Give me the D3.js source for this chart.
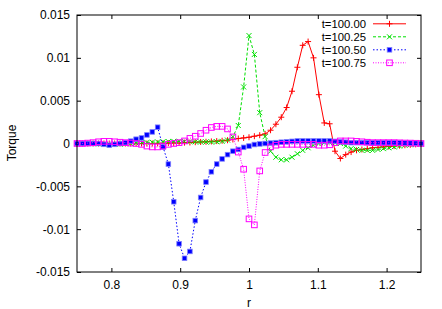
<!DOCTYPE html>
<html><head><meta charset="utf-8">
<script src="https://cdn.jsdelivr.net/npm/d3@7/dist/d3.min.js"></script>
<style>
body{margin:0;background:#fff;}
svg text{font-family:"Liberation Sans",Arial,sans-serif;font-size:12px;fill:#000;}
</style></head>
<body><svg id="c" width="442" height="309"></svg>
<script>
const r = [0.7500,0.7578,0.7656,0.7734,0.7813,0.7891,0.7969,0.8047,
0.8125,0.8203,0.8281,0.8359,0.8438,0.8516,0.8594,0.8672,
0.8750,0.8828,0.8906,0.8984,0.9063,0.9141,0.9219,0.9297,
0.9375,0.9453,0.9531,0.9609,0.9688,0.9766,0.9844,0.9922,
1.0000,1.0078,1.0156,1.0234,1.0313,1.0391,1.0469,1.0547,
1.0625,1.0703,1.0781,1.0859,1.0938,1.1016,1.1094,1.1172,
1.1250,1.1328,1.1406,1.1484,1.1563,1.1641,1.1719,1.1797,
1.1875,1.1953,1.2031,1.2109,1.2188,1.2266,1.2344,1.2422,
1.2500];
const t10000 = [0,0,0,0,0,0,0,0,
0,0,0,0,0,0,0,0.00002,
0.00003,0.00004,0.00005,0.00006,0.0001,0.00012,0.00015,0.00018,
0.0002,0.00024,0.00028,0.00032,0.00038,0.00047,0.00058,0.00065,
0.00073,0.00085,0.00097,0.00112,0.00155,0.00225,0.00307,0.0042,
0.0061,0.0089,0.01146,0.0119,0.0100,0.0057,0.0024,0.0023,
-0.0009,-0.00175,-0.0013,-0.001,-0.0008,-0.0007,-0.0006,-0.0005,
-0.00045,-0.0004,-0.00035,-0.0003,-0.00025,-0.0002,-0.00015,-0.0001,
-0.00005];
const t10025 = [0,0,0,0,-0.00005,-0.00008,-0.0001,-0.0001,
-0.00008,-0.00005,0,0.00005,0.0001,0.00012,0.00015,0.00018,
0.0002,0.00022,0.00025,0.00025,0.00025,0.00022,0.0002,0.00018,
0.00018,0.00018,0.0002,0.00025,0.0004,0.0008,0.0021,0.0066,
0.0126,0.0104,0.0036,0.0008,-0.0009,-0.0016,-0.0019,-0.0019,
-0.0016,-0.0012,-0.0008,-0.0005,-0.0002,0,0.0001,0.0001,
0.0001,0,-0.0003,-0.0006,-0.0007,-0.0008,-0.0008,-0.0008,
-0.0007,-0.0006,-0.0005,-0.0004,-0.0003,-0.0002,-0.00015,-0.0001,
-0.00005];
const t10050 = [0,0,0,0,0,-0.0001,-0.0002,-0.0001,
0,0.0001,0.00027,0.0005,0.00065,0.001,0.00135,0.0019,
-0.0004,-0.0024,-0.0068,-0.0117,-0.0134,-0.0126,-0.009,-0.0063,
-0.0045,-0.0033,-0.0024,-0.0018,-0.0013,-0.0009,-0.0007,-0.00045,
-0.0003,-0.00012,-0.00005,0,0.00005,0.0001,0.00015,0.0002,
0.00025,0.0003,0.0003,0.0003,0.0003,0.0003,0.0003,0.0003,
0.00025,0.0002,0.00015,0.0001,0.0001,0.0001,0.0001,0.0001,
0.0001,0.0001,0.0001,0.0001,0.00008,0.00006,0.00005,0.00003,
0];
const t10075 = [0,0,0.00005,0.0001,0.0002,0.00025,0.00025,0.0002,
0.00015,0.0001,0.00005,0,-0.0001,-0.0003,-0.0004,-0.0004,
-0.0003,-0.0001,0,0.0001,0.0003,0.0006,0.00085,0.00117,
0.00155,0.00187,0.002,0.002,0.0017,0.00077,-0.001,-0.003,
-0.0088,-0.0095,-0.0032,-0.00105,-0.0004,-0.0002,-0.0001,-0.0001,
-0.0001,-0.0001,-0.0001,-0.0001,-0.0001,-0.0002,-0.0002,-0.00015,
0.0001,0.0003,0.0003,0.0003,0.00025,0.0002,0.00015,0.0001,
0.0001,0.0001,0.0001,0.0001,0.00008,0.00006,0.00005,0.00003,
0];
const seriesNames = ["t=100.00","t=100.25","t=100.50","t=100.75"];
const xTicks = [0.8,0.9,1.0,1.1,1.2];
const xTickLabels = ["0.8","0.9","1","1.1","1.2"];
const yTicks = [-0.015,-0.01,-0.005,0,0.005,0.01,0.015];
const yTickLabels = ["-0.015","-0.01","-0.005","0","0.005","0.01","0.015"];

const svg = d3.select("#c");
const m = {l:77,t:15,r:21,b:37};
const W = 442, H = 309;
const x = d3.scaleLinear().domain([0.75,1.25]).range([m.l, W-m.r]);
const y = d3.scaleLinear().domain([-0.015,0.015]).range([H-m.b, m.t]);

const styles = [
  {color:"#ff0000", dash:null, mk:"plus"},
  {color:"#00e000", dash:"3,2", mk:"cross"},
  {color:"#0000ff", dash:"1.5,2", mk:"fsq"},
  {color:"#ff00ff", dash:"1,1.5", mk:"osq"}
];
const data = [t10000,t10025,t10050,t10075];

const tl = 4;
svg.append("g").attr("transform",`translate(0,${H-m.b})`)
  .call(d3.axisBottom(x).tickValues(xTicks).tickSize(-tl).tickPadding(8).tickFormat((d,i)=>xTickLabels[i]))
  .call(g=>{g.select(".domain").remove(); g.selectAll("line").attr("stroke","#000");});
svg.append("g").attr("transform",`translate(0,${m.t})`)
  .call(d3.axisTop(x).tickValues(xTicks).tickSize(-tl).tickFormat(""))
  .call(g=>{g.select(".domain").remove(); g.selectAll("line").attr("stroke","#000");});
svg.append("g").attr("transform",`translate(${m.l},0)`)
  .call(d3.axisLeft(y).tickValues(yTicks).tickSize(-tl).tickPadding(7).tickFormat((d,i)=>yTickLabels[i]))
  .call(g=>{g.select(".domain").remove(); g.selectAll("line").attr("stroke","#000");});
svg.append("g").attr("transform",`translate(${W-m.r},0)`)
  .call(d3.axisRight(y).tickValues(yTicks).tickSize(-tl).tickFormat(""))
  .call(g=>{g.select(".domain").remove(); g.selectAll("line").attr("stroke","#000");});
svg.selectAll(".tick text").style("font-family",'"Liberation Sans",Arial,sans-serif').style("font-size","12px").attr("fill","#000");

function marker(g, type, cx, cy, color){
  if(type==="plus"){
    g.append("path").attr("d",`M${cx-3},${cy}H${cx+3}M${cx},${cy-3}V${cy+3}`).attr("stroke",color).attr("stroke-width",1).attr("fill","none");
  } else if(type==="cross"){
    g.append("path").attr("d",`M${cx-2.5},${cy-2.5}L${cx+2.5},${cy+2.5}M${cx-2.5},${cy+2.5}L${cx+2.5},${cy-2.5}`).attr("stroke",color).attr("stroke-width",1).attr("fill","none");
  } else if(type==="fsq"){
    g.append("rect").attr("x",cx-2.3).attr("y",cy-2.3).attr("width",4.6).attr("height",4.6).attr("fill",color).attr("stroke","#8080ff").attr("stroke-width",0.8);
  } else {
    g.append("rect").attr("x",cx-2.8).attr("y",cy-2.8).attr("width",5.6).attr("height",5.6).attr("fill","none").attr("stroke",color).attr("stroke-width",1);
  }
}

const line = d3.line().x((d,i)=>x(r[i])).y(d=>y(d));
data.forEach((vals,k)=>{
  const s = styles[k];
  const g = svg.append("g");
  g.append("path").datum(vals).attr("d",line).attr("fill","none")
    .attr("stroke",s.color).attr("stroke-width",1)
    .attr("stroke-dasharray",s.dash);
  vals.forEach((v,i)=>marker(g,s.mk,x(r[i]),y(v),s.color));
});

svg.append("rect").attr("x",m.l).attr("y",m.t).attr("width",W-m.l-m.r).attr("height",H-m.t-m.b)
  .attr("fill","none").attr("stroke","#000").attr("stroke-width",1);

const lg = svg.append("g");
seriesNames.forEach((n,k)=>{
  const cy = 23.8 + k*13;
  const s = styles[k];
  lg.append("text").attr("x",366).attr("y",cy+4).attr("text-anchor","end").style("font-size","11.3px").text(n);
  lg.append("line").attr("x1",373).attr("x2",406).attr("y1",cy).attr("y2",cy)
    .attr("stroke",s.color).attr("stroke-width",1).attr("stroke-dasharray",s.dash);
  marker(lg,s.mk,389.5,cy,s.color);
});

svg.append("text").attr("x",249).attr("y",307).attr("text-anchor","middle").text("r");
svg.append("text").attr("transform","translate(16,143) rotate(-90)").attr("text-anchor","middle").text("Torque");
</script></body></html>
